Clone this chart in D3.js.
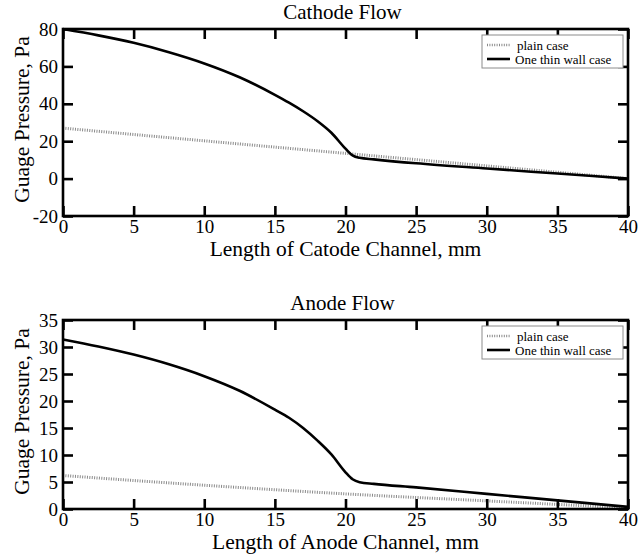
<!DOCTYPE html>
<html>
<head>
<meta charset="utf-8">
<script src="https://cdn.jsdelivr.net/npm/d3@7"></script>
<style>
  html, body { margin: 0; padding: 0; background: #fff; }
  svg { display: block; font-family: "Liberation Serif", "DejaVu Serif", serif; }
</style>
</head>
<body>
<svg id="chart" width="644" height="560"></svg>
<script>
// Channel position (mm) tick values shared by both panels
const xTicks = [0, 5, 10, 15, 20, 25, 30, 35, 40];

// Cathode flow
const cathodeYTicks = [-20, 0, 20, 40, 60, 80];
const cathodeWallX = [0, 2.5, 5, 7.5, 10, 12.5, 15, 16, 17, 18, 19, 20, 20.5, 21, 22, 25, 30, 35, 40];
const cathodeWallP = [80, 76.6, 72.6, 67.6, 61.6, 54.2, 44.8, 40.6, 36, 30.8, 24.5, 16, 12.4, 11.1, 10.3, 8.2, 5.4, 2.7, 0];
const cathodePlainX = [0, 10, 20, 30, 40];
const cathodePlainP = [27, 20.2, 13.5, 6.8, 0];

// Anode flow
const anodeYTicks = [0, 5, 10, 15, 20, 25, 30, 35];
const anodeWallX = [0, 2.5, 5, 7.5, 10, 12.5, 15, 16, 17, 18, 19, 20, 20.5, 21, 22, 25, 30, 35, 40];
const anodeWallP = [31.4, 30.1, 28.6, 26.8, 24.6, 21.9, 18.4, 16.9, 15.0, 12.7, 10.1, 6.8, 5.5, 4.95, 4.65, 4.0, 2.8, 1.6, 0.4];
const anodePlainX = [0, 10, 20, 30, 40];
const anodePlainP = [6.2, 4.4, 2.8, 1.5, 0.2];

const seriesNames = ["plain case", "One thin wall case"];

const svg = d3.select("#chart");
const serif = "Liberation Serif, DejaVu Serif, serif";

function drawPanel(opt) {
  const left = 63, right = 628;
  const x = d3.scaleLinear().domain([0, 40]).range([left, right]);
  const y = d3.scaleLinear().domain(opt.yDomain).range([opt.bottom, opt.top]);
  const g = svg.append("g");

  // curves
  const line = d3.line().curve(d3.curveMonotoneX);
  const plainPts = opt.plainX.map((v, i) => [x(v), y(opt.plainP[i])]);
  const wallPts = opt.wallX.map((v, i) => [x(v), y(opt.wallP[i])]);

  g.append("path").attr("d", line(plainPts))
    .attr("fill", "none").attr("stroke", "#8a8a8a")
    .attr("stroke-width", 3).attr("stroke-dasharray", "1,1.4");
  g.append("path").attr("d", line(wallPts))
    .attr("fill", "none").attr("stroke", "#000")
    .attr("stroke-width", 2.6).attr("stroke-linejoin", "round");

  // inward ticks on all four sides
  const tickLen = 10;
  const fmt = d => String(d);
  const axB = d3.axisBottom(x).tickValues(xTicks).tickSize(-tickLen).tickFormat(fmt).tickPadding(3);
  const axT = d3.axisTop(x).tickValues(xTicks).tickSize(-tickLen).tickFormat("");
  const axL = d3.axisLeft(y).tickValues(opt.yTicks).tickSize(-tickLen).tickFormat(fmt).tickPadding(5);
  const axR = d3.axisRight(y).tickValues(opt.yTicks).tickSize(-tickLen).tickFormat("");

  const styleAxis = sel => {
    sel.attr("font-family", serif).attr("font-size", 19);
    sel.select(".domain").remove();
    sel.selectAll(".tick line").attr("stroke", "#000").attr("stroke-width", 2.6);
    sel.selectAll(".tick text").attr("fill", "#000");
  };
  g.append("g").attr("transform", `translate(0,${opt.bottom})`).call(axB).call(styleAxis);
  g.append("g").attr("transform", `translate(0,${opt.top})`).call(axT).call(styleAxis);
  g.append("g").attr("transform", `translate(${left},0)`).call(axL).call(styleAxis);
  g.append("g").attr("transform", `translate(${right},0)`).call(axR).call(styleAxis);

  // frame
  g.append("rect").attr("x", left).attr("y", opt.top)
    .attr("width", right - left).attr("height", opt.bottom - opt.top)
    .attr("fill", "none").attr("stroke", "#000").attr("stroke-width", 2.6);

  // title
  g.append("text").attr("x", (left + right) / 2 - 3).attr("y", opt.top - 10)
    .attr("text-anchor", "middle").style("font-size", "21px").text(opt.title);

  // axis titles
  g.append("text").attr("x", (left + right) / 2).attr("y", opt.bottom + 40)
    .attr("text-anchor", "middle").style("font-size", "21.5px").text(opt.xLabel);
  g.append("text")
    .attr("transform", `translate(29,${(opt.top + opt.bottom) / 2 - 3}) rotate(-90)`)
    .attr("text-anchor", "middle").style("font-size", "21.5px").text("Guage Pressure, Pa");

  // legend
  const lw = 141, lh = 33, lx = right - 5 - lw, ly = opt.top + 6;
  const lg = g.append("g");
  lg.append("rect").attr("x", lx).attr("y", ly).attr("width", lw).attr("height", lh)
    .attr("fill", "#fff").attr("stroke", "#8c8c8c").attr("stroke-width", 1);
  const rows = [
    { name: seriesNames[0], stroke: "#8a8a8a", w: 2.6, dash: "1,1.4" },
    { name: seriesNames[1], stroke: "#000", w: 2.6, dash: null }
  ];
  rows.forEach((r, i) => {
    const yy = ly + 10 + i * 14;
    lg.append("line").attr("x1", lx + 5).attr("x2", lx + 28).attr("y1", yy).attr("y2", yy)
      .attr("stroke", r.stroke).attr("stroke-width", r.w)
      .attr("stroke-dasharray", r.dash);
    lg.append("text").attr("x", i === 0 ? lx + 35 : lx + 33).attr("y", yy + 4.5)
      .style("font-size", "13px").text(r.name);
  });
}

drawPanel({
  top: 29, bottom: 216, yDomain: [-20, 80], yTicks: cathodeYTicks,
  wallX: cathodeWallX, wallP: cathodeWallP, plainX: cathodePlainX, plainP: cathodePlainP,
  title: "Cathode Flow", xLabel: "Length of Catode Channel, mm"
});
drawPanel({
  top: 320, bottom: 509, yDomain: [0, 35], yTicks: anodeYTicks,
  wallX: anodeWallX, wallP: anodeWallP, plainX: anodePlainX, plainP: anodePlainP,
  title: "Anode Flow", xLabel: "Length of Anode Channel, mm"
});
</script>
</body>
</html>
